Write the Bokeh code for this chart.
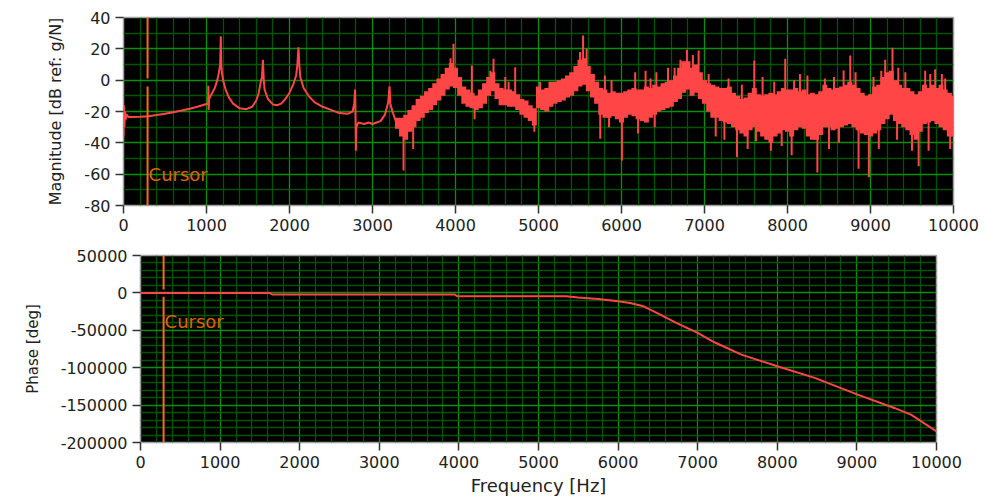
from bokeh.plotting import figure
from bokeh.layouts import column
from bokeh.models import Range1d, FixedTicker, CustomJSTickFormatter, Label
from bokeh.embed import file_html
from bokeh.resources import INLINE

# ---------------------------------------------------------------- axes
freq_ticks = [0, 1000, 2000, 3000, 4000, 5000, 6000, 7000, 8000, 9000, 10000]
mag_ticks = [-80, -60, -40, -20, 0, 20, 40]
phase_ticks = [-200000, -150000, -100000, -50000, 0, 50000]

# ---------------------------------------------------------------- magnitude, low band (clean resonances)
smooth_hz = [0, 5, 10, 20, 30, 40, 60, 100, 200, 300, 400, 500, 600, 700, 800, 900, 1000,
             1020, 1022, 1026, 1030, 1060, 1100, 1130, 1150, 1165, 1172, 1178, 1185, 1200,
             1230, 1270, 1320, 1400, 1480, 1550, 1600, 1630, 1650, 1668, 1680, 1690, 1700,
             1740, 1800, 1850, 1900, 1950, 2000, 2050, 2080, 2095, 2108, 2118, 2130, 2170,
             2230, 2300, 2400, 2500, 2600, 2700, 2760, 2780, 2790, 2795, 2800, 2805, 2830,
             2900, 2950, 3000, 3050, 3100, 3150, 3190, 3205, 3215, 3240, 3280, 3320]
smooth_db = [-36, -16, -30, -20, -25, -22, -23.5, -23.5, -23.3, -23, -22.3, -21.5, -20.5, -19.4, -18.2, -16.8, -15.2,
             -15, -3.5, -19, -12, -9, -5, 0, 5, 10, 28, 10, 5, 0,
             -6, -11, -15, -18, -18.5, -17, -13, -8, -2, 2, 13, 0, -6,
             -12, -15.5, -16, -15, -12, -8, -2, 3, 10, 21, 10, 2, -5,
             -10, -14, -17, -19, -21, -21.5, -20, -15, -6, -20, -45, -30, -27,
             -28, -27, -28, -27, -26, -22, -14, -4, -15, -20, -26, -28]

# ---------------------------------------------------------------- magnitude, noisy band (50 Hz bins)
band_hz = list(range(3300, 10001, 50))
band_hi = [-24, -24, -22, -19, -16, -12, -10, -7, -5, -2,
           1, 4, 8, 11, 8, 2, -4, -6, -8, -10,
           -6, -2, 2, 5, -2, -5, -6, -6, -7, -9,
           -12, -13, -16, -18, -4, -6, -5, -1, -1, 0,
           1, 3, 5, 9, 13, 14, 9, 4, -1, -5,
           -6, -8, -7, -8, -8, -7, -6, -5, -6, -6,
           -4, -5, -3, -4, -2, -1, 0, 3, 8, 12,
           12, 8, 10, 5, 0, -2, -3, -4, -5, -5,
           -4, -8, -10, -12, -11, -8, -5, -9, -10, -9,
           -8, -9, -7, -5, -6, -6, -5, -7, -6, -9,
           -8, -9, -7, -3, -5, -6, -5, -4, -3, -1,
           -3, -5, -8, -10, -9, -4, -3, 2, 5, 6,
           0, -3, -5, -5, -7, -9, -7, -3, -5, -3,
           -5, -3, -6, -8, -10]
band_lo = [-31, -36, -38, -33, -30, -26, -24, -21, -19, -16,
           -13, -10, -6, -4, -5, -10, -15, -17, -18, -19,
           -18, -15, -10, -7, -12, -16, -16, -17, -17, -19,
           -22, -24, -26, -29, -18, -19, -20, -17, -15, -14,
           -13, -11, -10, -7, -4, -3, -7, -11, -15, -22,
           -24, -24, -23, -25, -27, -24, -22, -23, -25, -26,
           -27, -24, -22, -20, -19, -18, -17, -14, -12, -8,
           -6, -10, -8, -12, -15, -20, -24, -24, -26, -27,
           -28, -30, -32, -34, -36, -32, -30, -33, -36, -38,
           -40, -36, -34, -32, -33, -36, -32, -30, -31, -36,
           -38, -38, -35, -30, -30, -32, -31, -30, -29, -28,
           -30, -32, -34, -35, -36, -34, -32, -28, -25, -22,
           -26, -28, -30, -32, -35, -38, -33, -28, -27, -26,
           -28, -30, -32, -36, -36]

# isolated narrow peaks / notches sticking out of the band
spike_hz = [3940, 3976, 4197, 4420, 4458, 4600, 4640, 4719, 5020, 5500, 5537, 5580, 5800, 5880,
            6165, 6290, 6350, 6420, 6560, 6640, 6710, 6788, 6860, 6929, 7050, 7290, 7450, 7600,
            7700, 7840, 7973, 8080, 8150, 8240, 8450, 8560, 8676, 8756, 8820, 9036, 9130, 9177,
            9265, 9335, 9420, 9659, 9720, 9779, 9860, 9900,
            3374, 3490, 4230, 4950, 5744, 5850, 6005, 6200, 6400, 7135, 7240, 7391, 7520, 7620,
            7800, 7930, 8050, 8360, 8500, 8620, 8856, 8980, 9100, 9320, 9500, 9580, 9700, 9960]
spike_db = [14, 23.2, 9.4, 6, 13.6, 2, -1, 8.3, -1, 18, 28.5, 20, 3, 0,
            5, 6, 1, 5, 8, 8, 13, 19.4, 16, 19, 4, 1, -3, 12.6,
            2, -1, 13.6, 0, 4, 3, 1, 2, 6.2, 15.7, 5, 2, 6, 13,
            20.7, 8, 5, 6, 4, 7, 4, 1,
            -57.7, -44, -25, -33, -37.4, -30, -51.3, -34, -30, -36, -38, -49, -44, -39,
            -45, -42, -48, -59, -44, -40, -56.6, -62, -44, -38, -45, -55, -45, -44]

# ---------------------------------------------------------------- phase
phase_hz = [0, 1620, 1660, 3800, 3950, 3980, 5350, 5500, 5750, 6000, 6150, 6320, 6530,
            6750, 7000, 7210, 7550, 8000, 8470, 9010, 9470, 9680, 10000]
phase_deg = [0, 0, -2300, -2300, -2300, -4500, -4500, -6000, -8000, -11200, -13400, -17900, -29000,
             -41000, -53500, -66000, -82500, -98100, -113600, -136000, -153800, -162800, -185100]

# ---------------------------------------------------------------- cursor
cursor_hz = 290
cursor_gap_db = [1, -4]
cursor_gap_deg = [4400, -5300]
cursor_text = "Cursor"

TRACE = "#ff4646"
CURSOR = "#f07018"
FONT = "DejaVu Sans"

# plain integers with an ASCII hyphen for negatives
plain = CustomJSTickFormatter(code="return tick.toFixed(0);")


def style(p, xt, yt, xminor, yminor):
    p.background_fill_color = "black"
    p.border_fill_color = "white"
    p.outline_line_color = "#a0a0a0"
    p.outline_line_width = 1.5
    p.xaxis.ticker = FixedTicker(ticks=xt, minor_ticks=xminor)
    p.yaxis.ticker = FixedTicker(ticks=yt, minor_ticks=yminor)
    p.xaxis.formatter = plain
    p.yaxis.formatter = plain
    for g in (p.xgrid, p.ygrid):
        g.grid_line_color = "#089008"
        g.grid_line_width = 1.3
        g.minor_grid_line_color = "#005500"
        g.minor_grid_line_width = 1.3
    for ax in (p.xaxis, p.yaxis):
        ax.axis_line_color = None
        ax.major_tick_line_color = "#333333"
        ax.major_tick_line_width = 1.5
        ax.major_tick_out = 8
        ax.major_tick_in = 0
        ax.minor_tick_out = 0
        ax.minor_tick_in = 0
        ax.major_label_text_font = FONT
        ax.major_label_text_font_size = "16px"
        ax.major_label_text_color = "#222222"
        ax.axis_label_text_font = FONT
        ax.axis_label_text_font_style = "normal"
        ax.axis_label_text_color = "#222222"
    p.xaxis.major_label_standoff = 5
    p.yaxis.major_label_standoff = 5


freq_minor = [f for f in range(0, 10001, 200) if f % 1000]
mag_minor = [-70, -50, -30, -10, 10, 30]
phase_minor = [v for v in range(-200000, 50001, 10000) if v % 50000]

# ---------------------------------------------------------------- magnitude plot
top = figure(width=985, height=240, output_backend="svg", toolbar_location=None,
             x_range=Range1d(0, 10000), y_range=Range1d(-80, 40), frame_align=False,
             min_border_left=123, min_border_right=32, min_border_top=17, min_border_bottom=35)
style(top, freq_ticks, mag_ticks, freq_minor, mag_minor)
top.yaxis.axis_label = "Magnitude [dB ref: g/N]"
top.yaxis.axis_label_text_font_size = "16px"
top.yaxis.axis_label_standoff = 16

top.line(smooth_hz, smooth_db, line_color=TRACE, line_width=2)
top.vbar(x=band_hz, top=band_hi, bottom=band_lo, width=60, fill_color=TRACE, line_color=None)

# each spike rises from the middle of its band bin
base = []
for f in spike_hz:
    i = min(range(len(band_hz)), key=lambda k: abs(band_hz[k] - f))
    base.append((band_hi[i] + band_lo[i]) / 2)
top.segment(x0=spike_hz, y0=base, x1=spike_hz, y1=spike_db, line_color=TRACE, line_width=2)

top.segment(x0=[cursor_hz, cursor_hz], y0=[40, cursor_gap_db[1]], x1=[cursor_hz, cursor_hz],
            y1=[cursor_gap_db[0], -80], line_color=CURSOR, line_width=2)
top.add_layout(Label(x=cursor_hz, y=-60, text=cursor_text, x_offset=1, text_baseline="middle",
                     text_color="#e0600a", text_font=FONT, text_font_size="18px"))

# ---------------------------------------------------------------- phase plot
bot = figure(width=985, height=259, output_backend="svg", toolbar_location=None,
             x_range=Range1d(0, 10000), y_range=Range1d(-200000, 50000), frame_align=False,
             min_border_left=140, min_border_right=49, min_border_top=15, min_border_bottom=57)
style(bot, freq_ticks, phase_ticks, freq_minor, phase_minor)
bot.yaxis.axis_label = "Phase [deg]"
bot.yaxis.axis_label_text_font_size = "15px"
bot.yaxis.axis_label_standoff = 16
bot.xaxis.axis_label = "Frequency [Hz]"
bot.xaxis.axis_label_text_font_size = "18px"
bot.xaxis.axis_label_standoff = 4

bot.line(phase_hz, phase_deg, line_color=TRACE, line_width=2)
bot.segment(x0=[cursor_hz, cursor_hz], y0=[50000, cursor_gap_deg[1]], x1=[cursor_hz, cursor_hz],
            y1=[cursor_gap_deg[0], -200000], line_color=CURSOR, line_width=2)
bot.add_layout(Label(x=cursor_hz, y=-37700, text=cursor_text, x_offset=1, text_baseline="middle",
                     text_color="#e0600a", text_font=FONT, text_font_size="18px"))

layout = column(top, bot, spacing=0)
open("out.html", "w").write(file_html(layout, INLINE))
